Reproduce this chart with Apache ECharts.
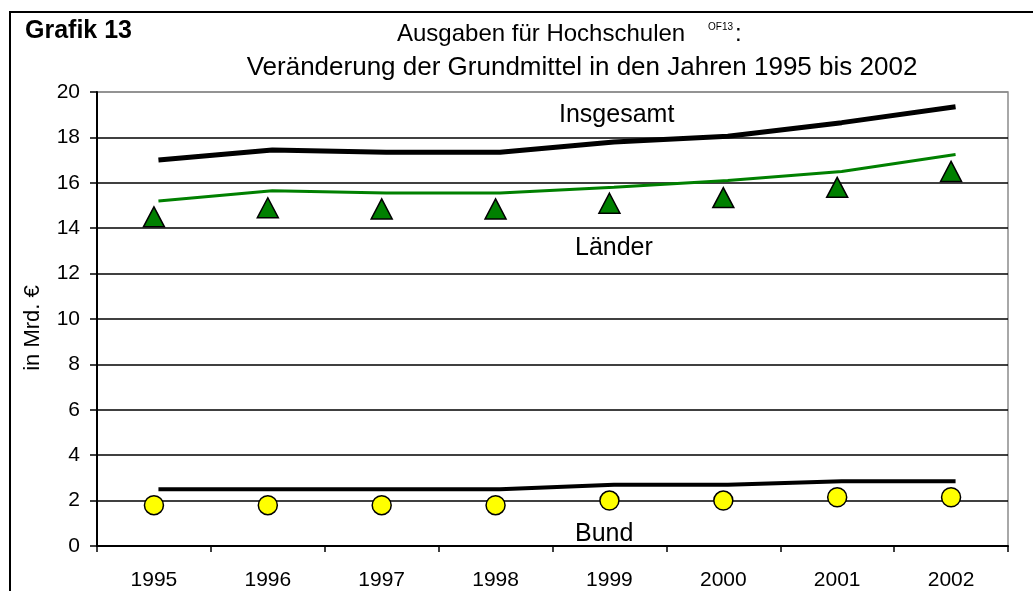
<!DOCTYPE html>
<html>
<head>
<meta charset="utf-8">
<script src="https://cdn.jsdelivr.net/npm/echarts@6/dist/echarts.min.js"></script>
<style>
  html, body { margin: 0; padding: 0; background: #fff; }
  #chart { width: 1033px; height: 591px; }
</style>
</head>
<body>
<div id="chart"></div>
<script>
// values (Mrd. €)
const years = ["1995", "1996", "1997", "1998", "1999", "2000", "2001", "2002"];
const insgesamt = [17.0, 17.45, 17.35, 17.35, 17.8, 18.05, 18.65, 19.35];
const laenderLine = [15.2, 15.65, 15.55, 15.55, 15.8, 16.1, 16.5, 17.25];
const bundLine = [2.5, 2.5, 2.5, 2.5, 2.7, 2.7, 2.85, 2.85];
const laenderPts = [14.5, 14.9, 14.85, 14.85, 15.1, 15.35, 15.8, 16.5];
const bundPts = [1.8, 1.8, 1.8, 1.8, 2.0, 2.0, 2.15, 2.15];
const yTicks = [0, 20, 2]; // min, max, step

const FONT = "'Liberation Sans', Arial, sans-serif";

// the last split line is the top border of the plot, drawn grey
const gridColors = [];
for (let v = yTicks[0]; v <= yTicks[1]; v += yTicks[2]) {
  gridColors.push(v === yTicks[1] ? "#8c8c8c" : "#000");
}

const chart = echarts.init(document.getElementById("chart"), null, { renderer: "canvas" });

const opt = {
  animation: false,
  backgroundColor: "#fff",
  textStyle: { fontFamily: FONT },
  grid: [
    { left: 97, right: 25, top: 92, bottom: 45, show: true, borderColor: "#8c8c8c", borderWidth: 1.5 },
    // lines sit a few px right of the markers in the original
    { left: 101.5, right: 20.5, top: 92, bottom: 45 },
  ],
  xAxis: [{
    type: "category", gridIndex: 0, data: years, boundaryGap: true,
    axisLine: { lineStyle: { color: "#000", width: 2 } },
    axisTick: { show: true, interval: 0, length: 6, lineStyle: { color: "#000", width: 1.5 } },
    axisLabel: { color: "#000", fontSize: 21, margin: 24, fontFamily: FONT },
  }, {
    type: "category", gridIndex: 1, data: years, boundaryGap: true, show: false,
  }],
  yAxis: [{
    type: "value", gridIndex: 0, min: yTicks[0], max: yTicks[1], interval: yTicks[2],
    axisLine: { show: true, lineStyle: { color: "#000", width: 2 } },
    axisTick: { show: true, length: 7, lineStyle: { color: "#000", width: 1.5 } },
    axisLabel: { color: "#000", fontSize: 21, margin: 17, fontFamily: FONT },
    splitLine: { show: true, lineStyle: { color: gridColors, width: 1.5 } },
  }, {
    type: "value", gridIndex: 1, min: yTicks[0], max: yTicks[1], show: false,
    splitLine: { show: false },
  }],
  series: [
    {
      name: "Länder Punkte", type: "scatter", xAxisIndex: 0, yAxisIndex: 0,
      data: laenderPts, symbol: "triangle", symbolSize: [21, 20],
      itemStyle: { color: "#008000", borderColor: "#000", borderWidth: 1.5, opacity: 1 }, z: 3,
    },
    {
      name: "Bund Punkte", type: "scatter", xAxisIndex: 0, yAxisIndex: 0,
      data: bundPts, symbol: "circle", symbolSize: 19,
      itemStyle: { color: "#ffff00", borderColor: "#000", borderWidth: 1.5, opacity: 1 }, z: 3,
    },
    {
      name: "Insgesamt", type: "line", xAxisIndex: 1, yAxisIndex: 1,
      data: insgesamt, showSymbol: false, lineStyle: { color: "#000", width: 5 }, z: 4,
    },
    {
      name: "Länder", type: "line", xAxisIndex: 1, yAxisIndex: 1,
      data: laenderLine, showSymbol: false, lineStyle: { color: "#008000", width: 3 }, z: 4,
    },
    {
      name: "Bund", type: "line", xAxisIndex: 1, yAxisIndex: 1,
      data: bundLine, showSymbol: false, lineStyle: { color: "#000", width: 4 }, z: 4,
    },
  ],
  graphic: [
    { type: "rect", shape: { x: 10, y: 12, width: 1100, height: 700 },
      style: { fill: null, stroke: "#000", lineWidth: 2 }, silent: true, z: -1 },
    { type: "text", x: 25, y: 31,
      style: { text: "Grafik 13", font: "bold 25px " + FONT, fill: "#000", textVerticalAlign: "middle" } },
    { type: "text", x: 397, y: 34,
      style: { text: "Ausgaben für Hochschulen", font: "24px " + FONT, fill: "#000", textVerticalAlign: "middle" } },
    { type: "text", x: 708, y: 27,
      style: { text: "OF13", font: "10px " + FONT, fill: "#000", textVerticalAlign: "middle" } },
    { type: "text", x: 735, y: 34,
      style: { text: ":", font: "24px " + FONT, fill: "#000", textVerticalAlign: "middle" } },
    { type: "text", x: 582, y: 68,
      style: { text: "Veränderung der Grundmittel in den Jahren 1995 bis 2002", font: "26px " + FONT,
        fill: "#000", textAlign: "center", textVerticalAlign: "middle" } },
    { type: "text", x: 33, y: 328, rotation: Math.PI / 2,
      style: { text: "in Mrd. €", font: "22px " + FONT, fill: "#000", textAlign: "center", textVerticalAlign: "middle" } },
    { type: "text", x: 559, y: 115,
      style: { text: "Insgesamt", font: "25px " + FONT, fill: "#000", textVerticalAlign: "middle" } },
    { type: "text", x: 575, y: 248,
      style: { text: "Länder", font: "25px " + FONT, fill: "#000", textVerticalAlign: "middle" } },
    { type: "text", x: 575, y: 534,
      style: { text: "Bund", font: "25px " + FONT, fill: "#000", textVerticalAlign: "middle" } },
  ],
};

chart.setOption(opt, true);
</script>
</body>
</html>
